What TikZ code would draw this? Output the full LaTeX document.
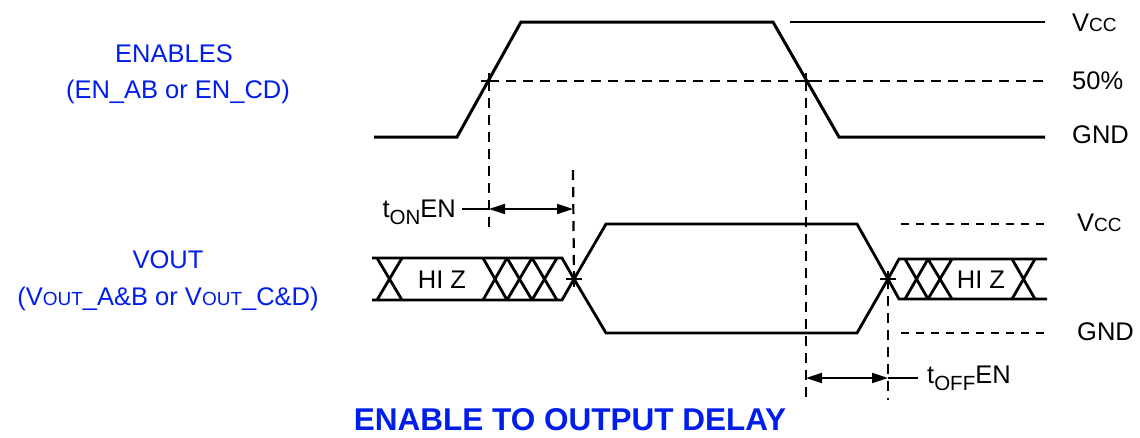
\documentclass[tikz,border=0pt]{standalone}
\usepackage{fontspec}
\setmainfont{Liberation Sans}
\usetikzlibrary{arrows.meta}
\definecolor{tiblue}{RGB}{0,30,235}
\newcommand{\scx}[1]{{\fontsize{19}{19}\selectfont #1}}
\newcommand{\subx}[1]{\raisebox{-7pt}{\fontsize{20.5}{20.5}\selectfont #1}}
\begin{document}
\begin{tikzpicture}[x=1pt,y=-1pt,
  sig/.style={line width=3pt, line join=miter},
  bus/.style={line width=2.8pt},
  guide/.style={line width=2.2pt, dash pattern=on 10pt off 7pt},
  lvl/.style={line width=1.8pt, dash pattern=on 8pt off 7pt},
  lbl/.style={font=\fontsize{25.5}{30}\selectfont, inner sep=0pt, anchor=base},
  blbl/.style={lbl, text=tiblue},
  dimarrow/.style={line width=2pt, {Triangle[length=16pt,width=10pt]}-{Triangle[length=16pt,width=10pt]}},
  crossmark/.style={line width=2pt}]
\useasboundingbox (0,0) rectangle (1140,437);

% key points
\coordinate (e50r) at (489,81);
\coordinate (e50f) at (806,81);
\coordinate (c1) at (574,279);
\coordinate (c2) at (888,279);

% ENABLES waveform
\draw[sig] (374,137) -- (457,137) -- (521,22) -- (773,22) -- (839,137) -- (1045,137);
\draw[line width=2pt] (790,22) -- (1045,22);
\draw[guide] (e50r) -- (1045,81);
\draw[guide] (e50r) -- (489,231);
\draw[guide] (e50f) -- (806,400);
\draw[guide] (573,170) -- (c1);
\draw[guide] (c2) -- (888,400);

% VOUT waveform
\draw[bus] (372,258) -- (562,258) -- (c1) -- (606,333) -- (857,333) -- (c2) -- (899,259) -- (1047,259);
\draw[bus] (372,300) -- (562,300) -- (c1) -- (606,224) -- (857,224) -- (c2) -- (899,299) -- (1047,299);
% bus crossings left
\foreach \a/\b in {377/402,483/507,507/532,532/557}
  \draw[bus] (\a,258) -- (\b,300) (\a,300) -- (\b,258);
% bus crossings right
\foreach \a/\b in {905/928,928/952,1012/1035}
  \draw[bus] (\a,259) -- (\b,299) (\a,299) -- (\b,259);
\draw[lvl] (901,224) -- (1047,224);
\draw[lvl] (901,333) -- (1047,333);

% cross marks
\foreach \p in {e50r,e50f,c1,c2}
  \draw[crossmark, shift={(\p)}] (-8,0) -- (8,0) (0,-8) -- (0,8);

% timing arrows
\node[lbl, anchor=base east] (ton) at (456,217) {t\subx{ON}EN};
\coordinate (tona) at (462,209);
\coordinate (tonb) at (489,209);
\coordinate (tonc) at (573,209);
\draw[line width=2pt] (tona) -- (tonb);
\draw[dimarrow] (tonb) -- (tonc);

\node[lbl, anchor=base west] (toff) at (927,383) {t\subx{OFF}EN};
\coordinate (toffa) at (806,378);
\coordinate (toffb) at (888,378);
\coordinate (toffc) at (918,378);
\draw[dimarrow] (toffa) -- (toffb);
\draw[line width=2pt] (toffb) -- (toffc);

% bus labels
\node[lbl] (hiz1) at (442,288) {HI Z};
\node[lbl] (hiz2) at (981,288) {HI Z};

% right labels
\node[lbl, anchor=base west] (vcc1) at (1072,31) {V\scx{CC}};
\node[lbl, anchor=base west] (p50) at (1072,89) {50\%};
\node[lbl, anchor=base west] (gnd1) at (1072,143) {GND};
\node[lbl, anchor=base west] (vcc2) at (1077,231) {V\scx{CC}};
\node[lbl, anchor=base west] (gnd2) at (1077,340) {GND};

% left labels
\node[blbl] (en1) at (174,62) {ENABLES};
\node[blbl] (en2) at (178,98) {(EN\_AB or EN\_CD)};
\node[blbl] (vo1) at (168,268) {VOUT};
\node[blbl] (vo2) at (168,305) {(V\scx{OUT}\_A\&B or V\scx{OUT}\_C\&D)};

% title
\node[lbl, text=tiblue, font=\fontsize{31.5}{36}\selectfont\bfseries] (title) at (570,430) {ENABLE TO OUTPUT DELAY};
\end{tikzpicture}
\end{document}
